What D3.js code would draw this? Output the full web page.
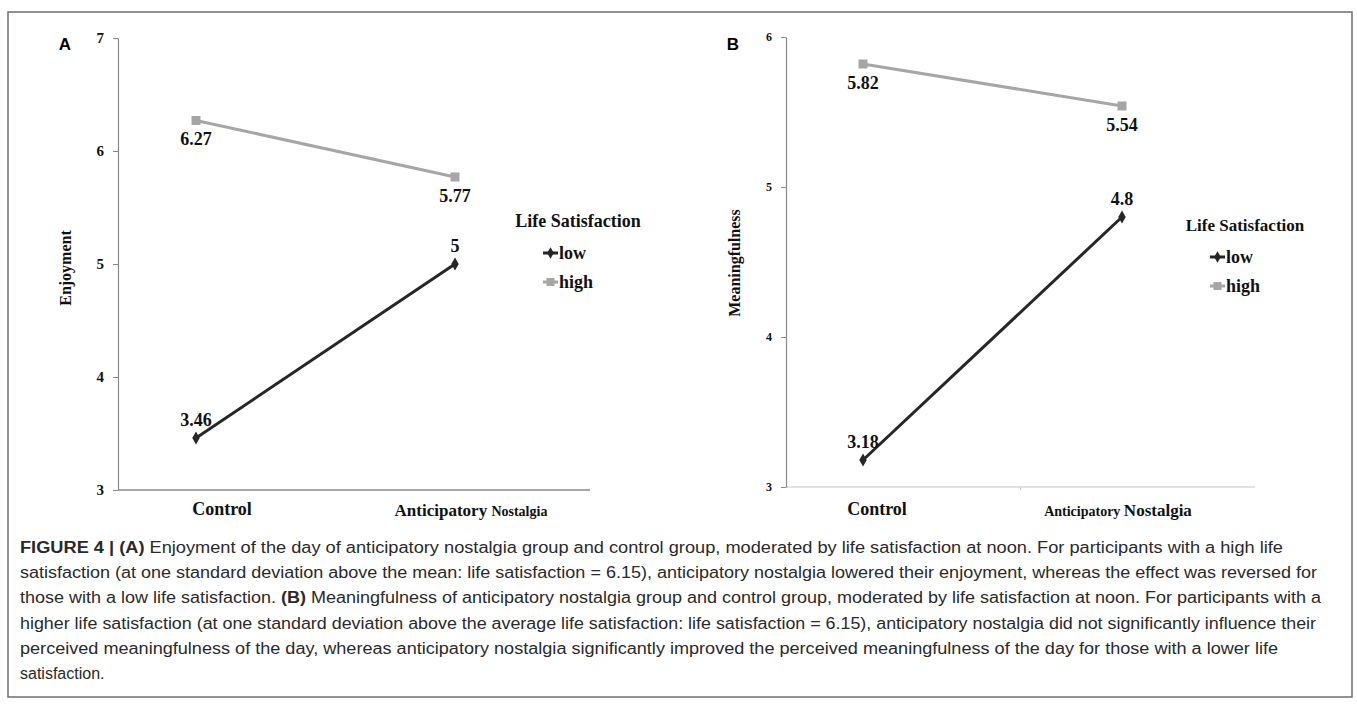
<!DOCTYPE html>
<html><head><meta charset="utf-8">
<script src="https://cdn.jsdelivr.net/npm/d3@7"></script>
<style>body{margin:0;background:#fff;} svg{display:block}</style>
</head><body><svg id="c" width="1357" height="707"></svg>
<script>
// ---------- data ----------
const categories = ["Control", "Anticipatory Nostalgia"];
const seriesNames = ["low", "high"];
const enjoymentLow = [3.46, 5];
const enjoymentHigh = [6.27, 5.77];
const meaningLow = [3.18, 4.8];
const meaningHigh = [5.82, 5.54];
const enjoymentTicks = [3, 4, 5, 6, 7];
const meaningTicks = [3, 4, 5, 6];
const legendTitle = "Life Satisfaction";
const captionLines = [
  [["FIGURE 4 | (A)", true], [" Enjoyment of the day of anticipatory nostalgia group and control group, moderated by life satisfaction at noon. For participants with a high life", false]],
  [["satisfaction (at one standard deviation above the mean: life satisfaction = 6.15), anticipatory nostalgia lowered their enjoyment, whereas the effect was reversed for", false]],
  [["those with a low life satisfaction. ", false], ["(B)", true], [" Meaningfulness of anticipatory nostalgia group and control group, moderated by life satisfaction at noon. For participants with a", false]],
  [["higher life satisfaction (at one standard deviation above the average life satisfaction: life satisfaction = 6.15), anticipatory nostalgia did not significantly influence their", false]],
  [["perceived meaningfulness of the day, whereas anticipatory nostalgia significantly improved the perceived meaningfulness of the day for those with a lower life", false]],
  [["satisfaction.", false]]
];

// ---------- drawing ----------
const svg = d3.select("#c");
const SERIF = "'Liberation Serif','Times New Roman',serif";
const SANS = "'Liberation Sans',Arial,sans-serif";
const COL_LOW = "#262626", COL_HIGH = "#a6a6a6";

svg.append("rect").attr("x", 8).attr("y", 12).attr("width", 1344).attr("height", 685)
  .attr("fill", "none").attr("stroke", "#6e6e6e").attr("stroke-width", 1.5);

function panel(cfg) {
  const g = svg.append("g");
  const y = d3.scaleLinear().domain(cfg.yDomain).range(cfg.yRange);
  const x = d3.scalePoint().domain(categories).range(cfg.xRange);
  const y0 = y(cfg.yDomain[0]);

  // panel letter
  g.append("text").attr("x", cfg.letterX).attr("y", 50).attr("text-anchor", "middle")
    .attr("font-family", SANS).attr("font-weight", "bold").attr("font-size", 17).text(cfg.letter);

  // x axis line
  g.append("line").attr("x1", cfg.axisX).attr("x2", cfg.xEnd).attr("y1", y0).attr("y2", y0)
    .attr("stroke", cfg.xAxisColor).attr("stroke-width", cfg.xAxisWidth);
  if (cfg.midTick) {
    const mx = (cfg.axisX + cfg.xEnd) / 2;
    g.append("line").attr("x1", mx).attr("x2", mx).attr("y1", y0).attr("y2", y0 + 3)
      .attr("stroke", "#cfcfcf").attr("stroke-width", 1);
  }

  // y axis
  const ya = d3.axisLeft(y).tickValues(cfg.ticks).tickSize(5).tickSizeOuter(0)
    .tickPadding(cfg.tickPad).tickFormat(d3.format("d"));
  const yg = g.append("g").attr("transform", `translate(${cfg.axisX},0)`).call(ya);
  yg.select(".domain").attr("stroke", "#8a8a8a").attr("stroke-width", 1.2);
  yg.selectAll(".tick line").attr("stroke", "#8a8a8a");
  yg.selectAll(".tick text").attr("font-family", SERIF).attr("font-weight", "bold")
    .attr("font-size", cfg.tickFont).attr("fill", "#111");

  // axis title
  g.append("text").attr("transform", `translate(${cfg.titleX},${cfg.titleY}) rotate(-90)`)
    .attr("text-anchor", "middle").attr("font-family", SERIF).attr("font-weight", "bold")
    .attr("font-size", 16).attr("fill", "#111").text(cfg.title);

  // category labels
  g.append("text").attr("x", cfg.catX[0]).attr("y", 515).attr("text-anchor", "middle")
    .attr("font-family", SERIF).attr("font-weight", "bold").attr("font-size", 18).attr("fill", "#111")
    .text(categories[0]);
  const parts = categories[1].split(" ");
  const t2 = g.append("text").attr("x", cfg.catX[1]).attr("y", 516).attr("text-anchor", "middle")
    .attr("font-family", SERIF).attr("font-weight", "bold").attr("fill", "#111");
  t2.append("tspan").attr("font-size", cfg.catFonts[0]).text(parts[0] + " ");
  t2.append("tspan").attr("font-size", cfg.catFonts[1]).text(parts[1]);

  const line = d3.line().x((d, i) => x(categories[i])).y(d => y(d));
  const series = [
    { name: seriesNames[0], values: cfg.low, color: COL_LOW, sym: d3.symbolDiamond, size: 48, w: 3, above: true },
    { name: seriesNames[1], values: cfg.high, color: COL_HIGH, sym: d3.symbolSquare, size: 81, w: 3, above: false }
  ];
  series.forEach(s => {
    g.append("path").attr("d", line(s.values)).attr("fill", "none")
      .attr("stroke", s.color).attr("stroke-width", s.w);
    s.values.forEach((v, i) => {
      g.append("path").attr("d", d3.symbol(s.sym, s.size)())
        .attr("transform", `translate(${x(categories[i])},${y(v)})`).attr("fill", s.color);
      g.append("text").attr("x", x(categories[i])).attr("y", y(v) + (s.above ? -12 : 25))
        .attr("text-anchor", "middle").attr("font-family", SERIF).attr("font-weight", "bold")
        .attr("font-size", 18).attr("fill", "#111").text(String(v));
    });
  });

  // legend
  const lg = g.append("g");
  lg.append("text").attr("x", cfg.legX + 35).attr("y", cfg.legY).attr("text-anchor", "middle")
    .attr("font-family", SERIF).attr("font-weight", "bold").attr("font-size", cfg.legTitleFont)
    .attr("fill", "#111").text(legendTitle);
  series.forEach((s, i) => {
    const yy = cfg.legY + 26 + i * 29;
    lg.append("line").attr("x1", cfg.legX).attr("x2", cfg.legX + 15).attr("y1", yy).attr("y2", yy)
      .attr("stroke", s.color).attr("stroke-width", 3);
    lg.append("path").attr("d", d3.symbol(s.sym, s.size * 0.8)())
      .attr("transform", `translate(${cfg.legX + 7.5},${yy})`).attr("fill", s.color);
    lg.append("text").attr("x", cfg.legX + 16).attr("y", yy + 6)
      .attr("font-family", SERIF).attr("font-weight", "bold").attr("font-size", 18)
      .attr("fill", "#111").text(s.name);
  });
}

panel({
  letter: "A", letterX: 65, axisX: 118, xEnd: 590,
  yDomain: [3, 7], yRange: [490, 38], xRange: [196, 455],
  ticks: enjoymentTicks, tickFont: 15, tickPad: 9,
  xAxisColor: "#a6a6a6", xAxisWidth: 2, midTick: false,
  title: "Enjoyment", titleX: 71, titleY: 268,
  catX: [222, 471], catFonts: [17, 14],
  low: enjoymentLow, high: enjoymentHigh,
  legX: 543, legY: 227, legTitleFont: 18
});
panel({
  letter: "B", letterX: 733, axisX: 786, xEnd: 1255,
  yDomain: [3, 6], yRange: [487, 37], xRange: [863, 1122],
  ticks: meaningTicks, tickFont: 12, tickPad: 9,
  xAxisColor: "#d9d9d9", xAxisWidth: 1.5, midTick: true,
  title: "Meaningfulness", titleX: 740, titleY: 263,
  catX: [877, 1118], catFonts: [14, 17],
  low: meaningLow, high: meaningHigh,
  legX: 1210, legY: 231, legTitleFont: 17
});

// caption
const capEnds = [1283, 1317, 1321, 1316, 1278, null];
captionLines.forEach((ln, i) => {
  const t = svg.append("text").attr("x", 20).attr("y", 553 + i * 25.2)
    .attr("font-family", SANS).attr("font-size", 16).attr("fill", "#2a2a2a");
  ln.forEach(([s, b]) => t.append("tspan").attr("font-weight", b ? "bold" : "normal").text(s));
  if (capEnds[i]) t.attr("textLength", capEnds[i] - 20).attr("lengthAdjust", "spacingAndGlyphs");
});
</script></body></html>
